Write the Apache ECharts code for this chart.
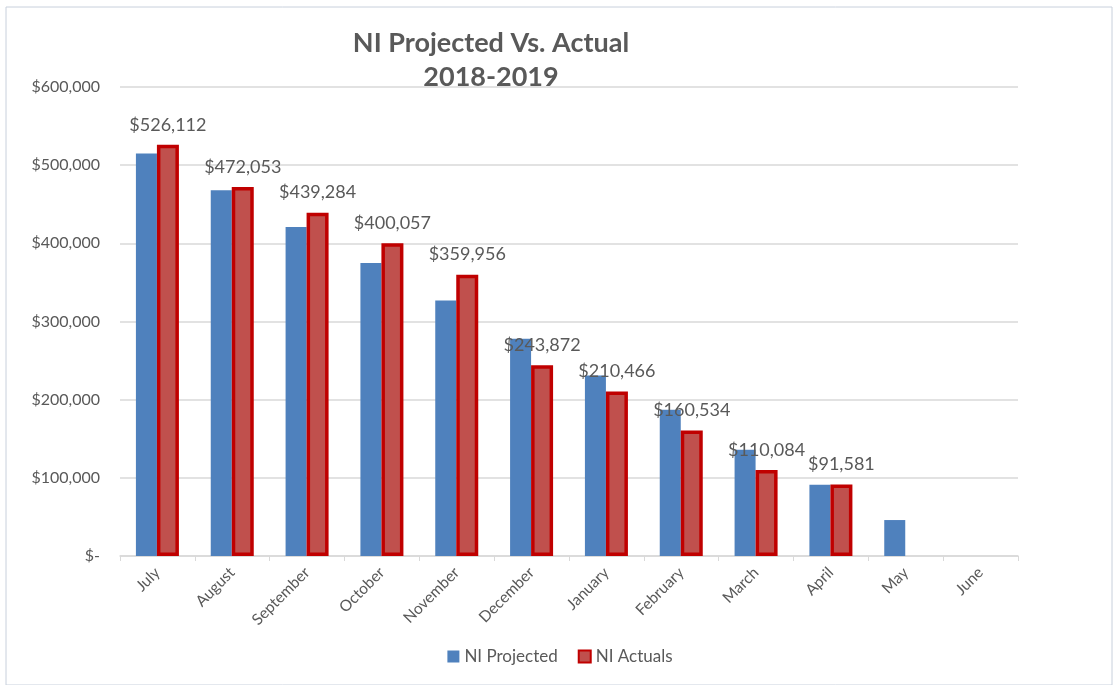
<!DOCTYPE html>
<html>
<head>
<meta charset="utf-8">
<script src="https://cdn.jsdelivr.net/npm/echarts@6/dist/echarts.min.js"></script>
<style>
html,body{margin:0;padding:0;background:#fff;}
#c{width:1120px;height:685px;}
</style>
</head>
<body>
<div id="c"></div>
<script>
const months = ['July','August','September','October','November','December','January','February','March','April','May','June'];
const projected = [515000, 468000, 421000, 375000, 327000, 278000, 231000, 187000, 136000, 91000, 46000, null];
const actuals = [526112, 472053, 439284, 400057, 359956, 243872, 210466, 160534, 110084, 91581, null, null];
const yTicks = [0, 100000, 200000, 300000, 400000, 500000, 600000];

const FONT = 'Lato, "Open Sans", sans-serif';
const TXT = '#595959';
function money(v){ return v === 0 ? '$-' : '$' + Math.round(v).toLocaleString('en-US'); }

const chart = echarts.init(document.getElementById('c'), null, {renderer:'canvas'});
chart.setOption({
  backgroundColor: '#fff',
  animation: false,
  textStyle: {fontFamily: FONT},
  title: {
    text: 'NI Projected Vs. Actual\n2018-2019',
    left: 486, top: 21, textAlign: 'center',
    textStyle: {fontFamily: FONT, fontSize: 27, fontWeight: 'bold', color: TXT, lineHeight: 34}
  },
  graphic: [{
    type: 'rect', shape: {x: 6, y: 7, width: 1106, height: 678},
    style: {fill: 'none', stroke: '#c8d0dc', lineWidth: 1}, silent: true, z: -1
  }],
  legend: {
    bottom: 15, left: 'center',
    itemWidth: 12, itemHeight: 12, itemGap: 20,
    textStyle: {fontFamily: FONT, fontSize: 17, color: TXT},
    data: [
      {name: 'NI Projected', icon: 'rect'},
      {name: 'NI Actuals', icon: 'rect'}
    ]
  },
  grid: {left: 120, right: 102, top: 87, bottom: 129},
  xAxis: {
    type: 'category', data: months,
    axisLine: {lineStyle: {color: '#d9d9d9', width: 1.5}},
    axisTick: {show: true, lineStyle: {color: '#d9d9d9'}, length: 5},
    axisLabel: {rotate: 45, color: TXT, fontSize: 15.5, fontFamily: FONT, margin: 14}
  },
  yAxis: {
    type: 'value', min: 0, max: 600000, interval: 100000,
    axisLine: {show: false}, axisTick: {show: false},
    splitLine: {lineStyle: {color: '#d9d9d9', width: 1.5}},
    axisLabel: {color: TXT, fontSize: 16, fontFamily: FONT, margin: 20,
      formatter: v => yTicks.includes(v) ? money(v) : ''}
  },
  series: [
    {
      name: 'NI Projected', type: 'bar', data: projected,
      barWidth: 21, barGap: '0%',
      itemStyle: {color: '#4f81bd'}
    },
    {
      name: 'NI Actuals', type: 'bar', data: actuals,
      barWidth: 22,
      itemStyle: {color: '#c0504d', borderColor: '#c00000', borderWidth: 3.5},
      label: {
        show: true, position: 'top', distance: 11,
        color: TXT, fontSize: 18, fontFamily: FONT,
        formatter: p => money(p.value)
      }
    }
  ]
});
</script>
</body>
</html>
